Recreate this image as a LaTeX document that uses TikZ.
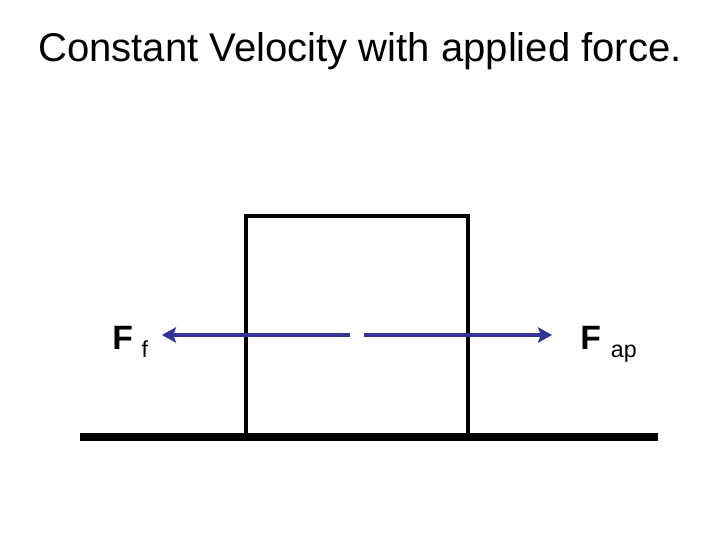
\documentclass[tikz,border=0pt]{standalone}
\usepackage{fontspec}
\setmainfont{Liberation Sans}
\usetikzlibrary{arrows.meta, positioning}
\definecolor{forceblue}{RGB}{51,51,153}

\begin{document}
\begin{tikzpicture}[
    block/.style={draw,line width=2.5pt,minimum width=5.55cm,minimum height=5.525cm,
                  inner sep=0pt},
    force/.style={-{Stealth[length=10pt,width=11pt,inset=2pt]},line width=3.2pt,forceblue},
    ground/.style={line width=5pt},
    flbl/.style={font=\fontsize{24}{28}\selectfont\bfseries,inner sep=0pt,anchor=base west}
]
  \useasboundingbox (0,0) rectangle (18,13.5);

  % Title
  \node[font=\fontsize{28.5}{34}\selectfont,anchor=base] (title) at (9,11.95)
    {Constant Velocity with applied force.};

  % Block on the ground
  \node[block] (box) at (8.925,5.3375) {};
  \coordinate (gl) at (2.0,2.575);
  \coordinate (gr) at (16.45,2.575);
  \draw[ground] (gl) -- (gr);

  % Labels
  \node[flbl] (ff) at (2.8,4.75) {F\hspace{0.22cm}\raisebox{-0.2cm}{\mdseries\fontsize{16.5}{19}\selectfont f}};
  \node[flbl] (fap) at (14.5,4.75) {F\hspace{0.25cm}\raisebox{-0.2cm}{\mdseries\fontsize{16.5}{19}\selectfont ap}};

  % Forces
  \coordinate (midl) at (8.75,5.125);
  \coordinate (midr) at (9.1,5.125);
  \coordinate (tipl) at (4.05,5.125);
  \coordinate (tipr) at (13.8,5.125);
  \draw[force] (midl) -- (tipl);
  \draw[force] (midr) -- (tipr);
\end{tikzpicture}
\end{document}
